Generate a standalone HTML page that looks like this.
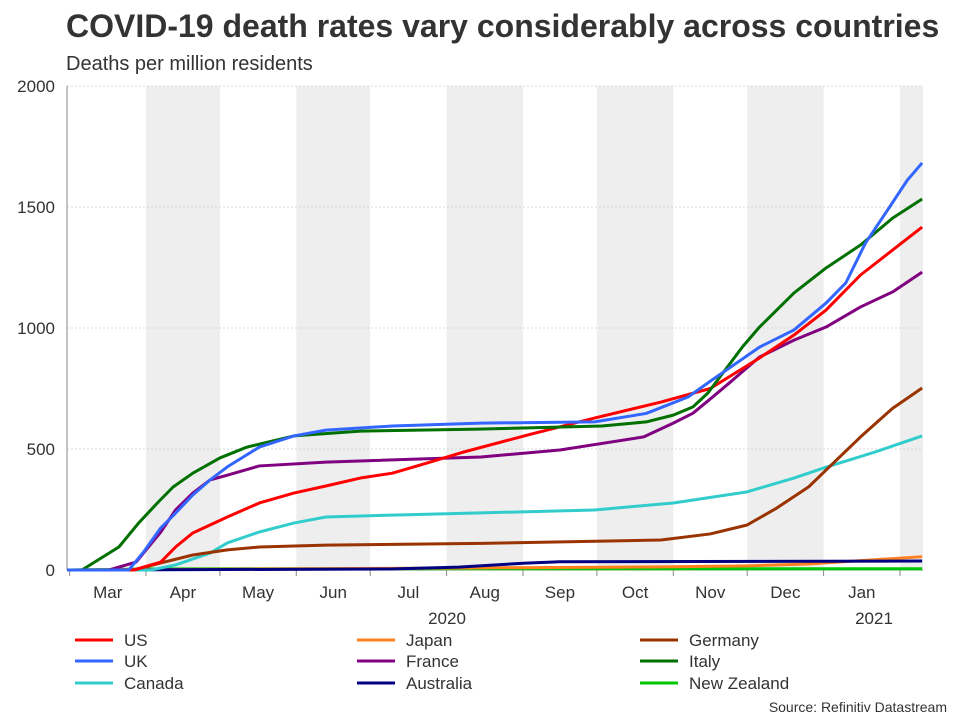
<!DOCTYPE html>
<html><head><meta charset="utf-8"><style>
body{margin:0;background:#fff;font-family:"Liberation Sans",sans-serif;}
svg text{font-family:"Liberation Sans",sans-serif;}
</style></head><body>
<svg id="chart" width="960" height="720">
<text x="66" y="37" font-size="32" font-weight="bold" fill="#333">COVID-19 death rates vary considerably across countries</text>
<text x="66" y="70" font-size="20" fill="#333">Deaths per million residents</text>
<g id="bands"></g><g id="grid"></g><g id="axes"></g><g id="lines"></g><g id="legend"></g>
<text x="947" y="712" font-size="14" fill="#333" text-anchor="end">Source: Refinitiv Datastream</text>
</svg>
<script>
const yTicks=[0,500,1000,1500,2000];
const months=["Mar","Apr","May","Jun","Jul","Aug","Sep","Oct","Nov","Dec","Jan"];
const monthStarts=[0,31,61,92,122,153,184,214,245,275,306,337];
const seriesNames=["US","Japan","Germany","UK","France","Italy","Canada","Australia","New Zealand"];
const usDays=[-1,26,37,43,50,64,77,91,104,118,131,145,159,186,213,240,260,280,294,307,321,334,346];
const usVals=[0,0,33,95,153,219,277,318,347,380,400,442,485,558,628,694,750,876,971,1074,1219,1322,1417];
const japanDays=[-1,150,240,275,300,320,346];
const japanVals=[0,8,13,17,25,38,55];
const germanyDays=[-1,26,37,50,64,77,104,167,240,260,275,287,300,307,321,334,346];
const germanyVals=[0,0,29,62,83,95,103,110,124,149,186,256,344,413,550,668,752];
const ukDays=[-1,24,30,37,43,50,57,64,77,91,104,131,167,213,234,251,260,280,294,307,315,323,332,340,346];
const ukVals=[0,0,74,174,235,310,372,426,508,554,578,595,607,612,647,715,780,921,992,1103,1186,1351,1488,1611,1682];
const franceDays=[-1,16,27,37,43,50,57,64,77,104,167,199,233,245,253,261,268,280,294,307,321,334,346];
const franceVals=[0,0,33,157,248,318,372,392,430,446,467,496,550,607,648,715,775,880,950,1004,1087,1149,1231];
const italyDays=[-1,5,20,28,36,42,50,61,72,91,118,166,216,234,245,253,259,263,267,273,280,294,307,321,334,346];
const italyVals=[0,0,95,194,281,343,400,463,508,554,574,582,595,612,640,674,731,785,839,921,1004,1145,1248,1343,1454,1533];
const canadaDays=[-1,33,43,57,64,77,91,104,131,167,213,245,275,294,307,327,346];
const canadaVals=[0,0,21,70,112,157,194,219,227,236,248,277,323,380,425,488,554];
const australiaDays=[-1,130,158,184,199,346];
const australiaVals=[0,4,12,28,34,37];
const nzDays=[-1,30,60,346];
const nzVals=[0,4,5,5];

const X0=69.6,DX=2.464,Y0=570,YS=484/2000;
const xs=d=>X0+d*DX, ys=v=>Y0-v*YS;
const NS="http://www.w3.org/2000/svg";
function mk(parent,tag,attrs,text){const e=document.createElementNS(NS,tag);for(const k in attrs)e.setAttribute(k,attrs[k]);if(text!==undefined)e.textContent=text;parent.appendChild(e);return e;}
const bands=document.getElementById('bands'),grid=document.getElementById('grid'),axes=document.getElementById('axes'),lines=document.getElementById('lines'),legend=document.getElementById('legend');
const L=67,R=923;
for(let i=1;i<monthStarts.length;i+=2){
  const x1=Math.max(L,xs(monthStarts[i])), x2=Math.min(R,i+1<monthStarts.length?xs(monthStarts[i+1]):R);
  const b=mk(bands,'rect',{x:x1,y:ys(2000),width:x2-x1,height:Y0-ys(2000),fill:'#eeeeee'});
  
  
}
yTicks.forEach(v=>{
  if(v>0){const g=mk(grid,'line',{x1:L,x2:R,y1:ys(v),y2:ys(v),stroke:'#d8d8d8','stroke-dasharray':'2,2'});
  
  }
  const t=mk(axes,'text',{x:55,y:ys(v)+6,'font-size':17,fill:'#333','text-anchor':'end'},v);
  
  
});
mk(axes,'line',{x1:L,x2:L,y1:ys(2000),y2:Y0,stroke:'#888'});
mk(axes,'line',{x1:L,x2:R,y1:Y0,y2:Y0,stroke:'#888'});
monthStarts.forEach(d=>{const x=xs(d);mk(axes,'line',{x1:x,x2:x,y1:Y0,y2:Y0+6,stroke:'#888'});});
months.forEach((m,i)=>{
  const t=mk(axes,'text',{x:(xs(monthStarts[i])+xs(monthStarts[i+1]))/2,y:598,'font-size':17,fill:'#333','text-anchor':'middle'},m);
  
  
});
const y1=mk(axes,'text',{x:447,y:624,'font-size':17,fill:'#333','text-anchor':'middle'},'2020');


const y2=mk(axes,'text',{x:874,y:624,'font-size':17,fill:'#333','text-anchor':'middle'},'2021');



const order=[["New Zealand",nzDays,nzVals,"#00c800"],["Japan",japanDays,japanVals,"#ff8020"],["Australia",australiaDays,australiaVals,"#000080"],["Canada",canadaDays,canadaVals,"#33cccc"],["Germany",germanyDays,germanyVals,"#993300"],["France",franceDays,franceVals,"#800080"],["US",usDays,usVals,"#ff0000"],["Italy",italyDays,italyVals,"#007000"],["UK",ukDays,ukVals,"#3366ff"]];
const colors={};
order.forEach(([n,d,v,c])=>{
  colors[n]=c;
  const p=mk(lines,'polyline',{points:d.map((dd,i)=>xs(dd)+','+ys(v[i])).join(' '),fill:'none',stroke:c,'stroke-width':3,'stroke-linejoin':'round'});
  
  
});
seriesNames.forEach((n,i)=>{
  const col=i%3,row=Math.floor(i/3);
  const lx=[75,357,640][col],ly=[640,661,683][row];
  const g=mk(legend,'g',{});
  
  
  mk(g,'line',{x1:lx,x2:lx+38,y1:ly,y2:ly,stroke:colors[n],'stroke-width':3});
  mk(g,'text',{x:lx+49,y:ly+6,'font-size':17,fill:'#333'},n);
});
</script>
</body></html>
